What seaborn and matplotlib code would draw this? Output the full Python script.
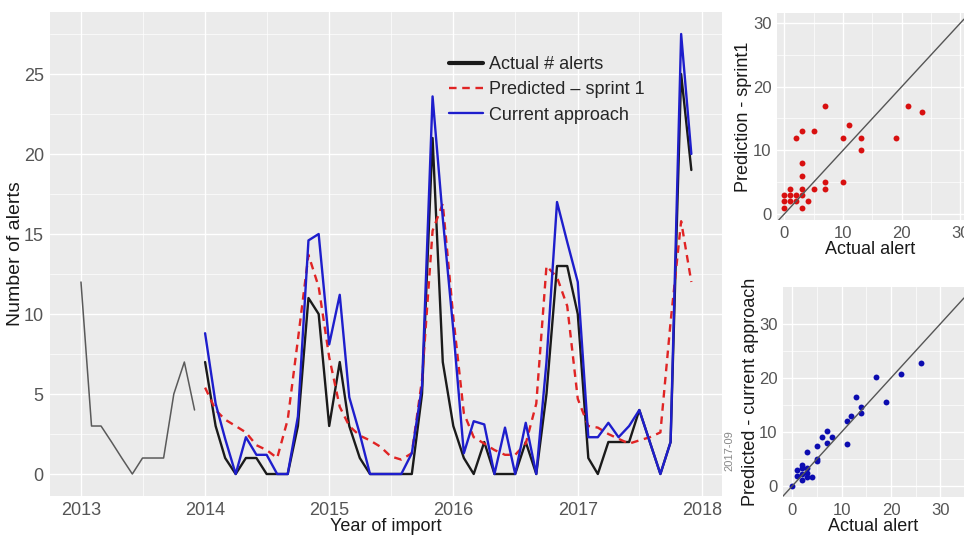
import numpy as np
import pandas as pd
import seaborn as sns
import matplotlib.pyplot as plt
import matplotlib.dates as mdates

# monthly alerts, 2013 history
months_2013 = pd.date_range('2013-01-01', periods=12, freq='MS')
alerts_2013 = [12, 3, 3, 2, 1, 0, 1, 1, 1, 5, 7, 4]

# 2014-2017: actual, sprint 1 prediction, current approach
months = pd.date_range('2014-01-01', periods=48, freq='MS')
actual = [7, 3, 1, 0, 1, 1, 0, 0, 0, 3, 11, 10,
          3, 7, 3, 1, 0, 0, 0, 0, 0, 5, 21, 7,
          3, 1, 0, 2, 0, 0, 0, 2, 0, 5, 13, 13,
          10, 1, 0, 2, 2, 2, 4, 2, 0, 2, 25, 19]
sprint1 = [5.4, 4.0, 3.4, 3.0, 2.6, 1.8, 1.5, 1.0, 3.4, 8.4, 13.7, 11.7,
           7.3, 4.2, 3.0, 2.4, 2.1, 1.7, 1.1, 0.9, 1.3, 5.9, 15.2, 16.9,
           9.8, 3.8, 2.3, 1.9, 1.5, 1.2, 1.2, 1.9, 4.4, 13.0, 12.3, 10.5,
           4.7, 3.0, 2.9, 2.5, 2.2, 1.9, 2.1, 2.3, 2.6, 9.5, 15.8, 12.0]
current = [8.8, 4.4, 2.2, 0, 2.3, 1.2, 1.2, 0, 0, 3.6, 14.6, 15.0,
           8.1, 11.2, 4.8, 2.5, 0, 0, 0, 0, 1.3, 5.5, 23.6, 16.0,
           9.0, 1.3, 3.3, 3.1, 0, 2.9, 0, 3.2, 0, 7.0, 17.0, 14.5,
           12.0, 2.3, 2.3, 3.2, 2.3, 3.0, 4.0, 2.0, 0, 2.0, 27.5, 20.0]

# scatter: actual vs predicted (sprint 1)
s1_actual = [0, 0, 0, 1, 1, 1, 2, 2, 2, 3, 3, 3, 3, 3, 3, 4, 5, 5,
             7, 7, 7, 10, 10, 11, 13, 13, 19, 21, 23.5]
s1_pred = [3, 2, 1, 4, 3, 2, 12, 3, 2, 13, 8, 6, 4, 3, 1, 2, 13, 4,
           17, 5, 4, 12, 5, 14, 12, 10, 12, 17, 16]

# scatter: actual vs predicted (current approach)
ca_actual = [0, 1, 1, 2, 2, 2, 2, 3, 3, 3, 3, 4, 5, 5, 5, 6, 7, 7, 8,
             11, 11, 12, 13, 14, 14, 17, 19, 22, 26]
ca_pred = [0, 3.0, 1.85, 3.9, 3.3, 2.2, 1.1, 6.2, 3.3, 2.35, 1.7, 1.7,
           7.4, 4.9, 4.6, 9.1, 10.1, 7.9, 9.1, 12.0, 7.8, 13.0, 16.5,
           14.7, 13.5, 20.1, 15.5, 20.8, 22.8]

sns.set_theme(style='darkgrid', rc={'axes.facecolor': '#EBEBEB',
                                    'grid.color': 'white'})
plt.rcParams['font.family'] = ['Liberation Sans', 'DejaVu Sans']

fig = plt.figure(figsize=(9.64, 5.36), dpi=100)
ax = fig.add_axes([0.0519, 0.0746, 0.697, 0.903])
ax1 = fig.add_axes([0.806, 0.5896, 0.194, 0.386])
ax2 = fig.add_axes([0.8122, 0.0728, 0.1878, 0.392])

# main time series
sns.lineplot(x=months_2013, y=alerts_2013, ax=ax, color='#5a5a5a', lw=1.1)
sns.lineplot(x=months, y=actual, ax=ax, color='#1a1a1a', lw=1.7,
             label='Actual # alerts')
sns.lineplot(x=months, y=sprint1, ax=ax, color='#E02424', lw=1.7,
             label='Predicted \u2013 sprint 1')
ax.lines[-1].set_dashes((3.2, 2.4))
sns.lineplot(x=months, y=current, ax=ax, color='#1E1ECC', lw=1.7,
             label='Current approach')

ax.set_xlim(pd.Timestamp('2012-10-02'), pd.Timestamp('2018-03-01'))
ax.set_ylim(-1.375, 28.875)
ax.xaxis.set_major_locator(mdates.YearLocator())
ax.xaxis.set_major_formatter(mdates.DateFormatter('%Y'))
ax.xaxis.set_minor_locator(mdates.MonthLocator(bymonth=7))
ax.set_yticks([0, 5, 10, 15, 20, 25])
ax.set_yticks([2.5, 7.5, 12.5, 17.5, 22.5, 27.5], minor=True)
ax.set_xlabel('Year of import', fontsize=13, color='#1a1a1a', labelpad=-1)
ax.set_ylabel('Number of alerts', fontsize=14, color='#1a1a1a', labelpad=0)

leg = ax.legend(loc='upper left', bbox_to_anchor=(0.57, 0.942), frameon=False,
                fontsize=13, handlelength=1.85, handletextpad=0.35,
                labelspacing=0.45)
leg.get_lines()[0].set_linewidth(3)

# scatter panels
sns.scatterplot(x=s1_actual, y=s1_pred, ax=ax1, color='#D81010', s=18,
                linewidth=0)
ax1.axline((0, 0), slope=1, color='#555555', lw=1)
ax1.set_xlim(-1.24, 30.6)
ax1.set_ylim(-0.94, 31.55)
ax1.set_xlabel('Actual alert', fontsize=13, color='#1a1a1a', labelpad=0)
ax1.set_ylabel('Prediction - sprint1', fontsize=13, color='#1a1a1a',
               labelpad=0.5)

sns.scatterplot(x=ca_actual, y=ca_pred, ax=ax2, color='#0C0CB0', s=18,
                linewidth=0)
ax2.axline((0, 0), slope=1, color='#555555', lw=1)
ax2.set_xlim(-1.89, 34.8)
ax2.set_ylim(-2.04, 36.85)
ax2.set_xlabel('Actual alert', fontsize=13, color='#1a1a1a', labelpad=0.5)
ax2.set_ylabel('Predicted - current approach', fontsize=13, color='#1a1a1a',
               labelpad=-0.5)

for a in (ax1, ax2):
    a.set_xticks([0, 10, 20, 30])
    a.set_yticks([0, 10, 20, 30])
    a.set_xticks([5, 15, 25], minor=True)
    a.set_yticks([5, 15, 25], minor=True)

for a in (ax, ax1, ax2):
    a.grid(which='major', color='white', lw=1.0)
    a.grid(which='minor', color='white', lw=0.5)
    a.tick_params(which='major', length=3, width=0.8, color='#444444',
                  labelcolor='#555555', labelsize=13, pad=1.5)
    a.tick_params(which='minor', length=0)
    for sp in a.spines.values():
        sp.set_visible(False)

for a in (ax1, ax2):
    a.tick_params(which='major', labelsize=12, pad=1)

fig.text(0.757, 0.16, '2017-09', rotation=90, fontsize=8, color='#888888',
         ha='center', va='center')

fig.savefig('out.png', dpi=100)
